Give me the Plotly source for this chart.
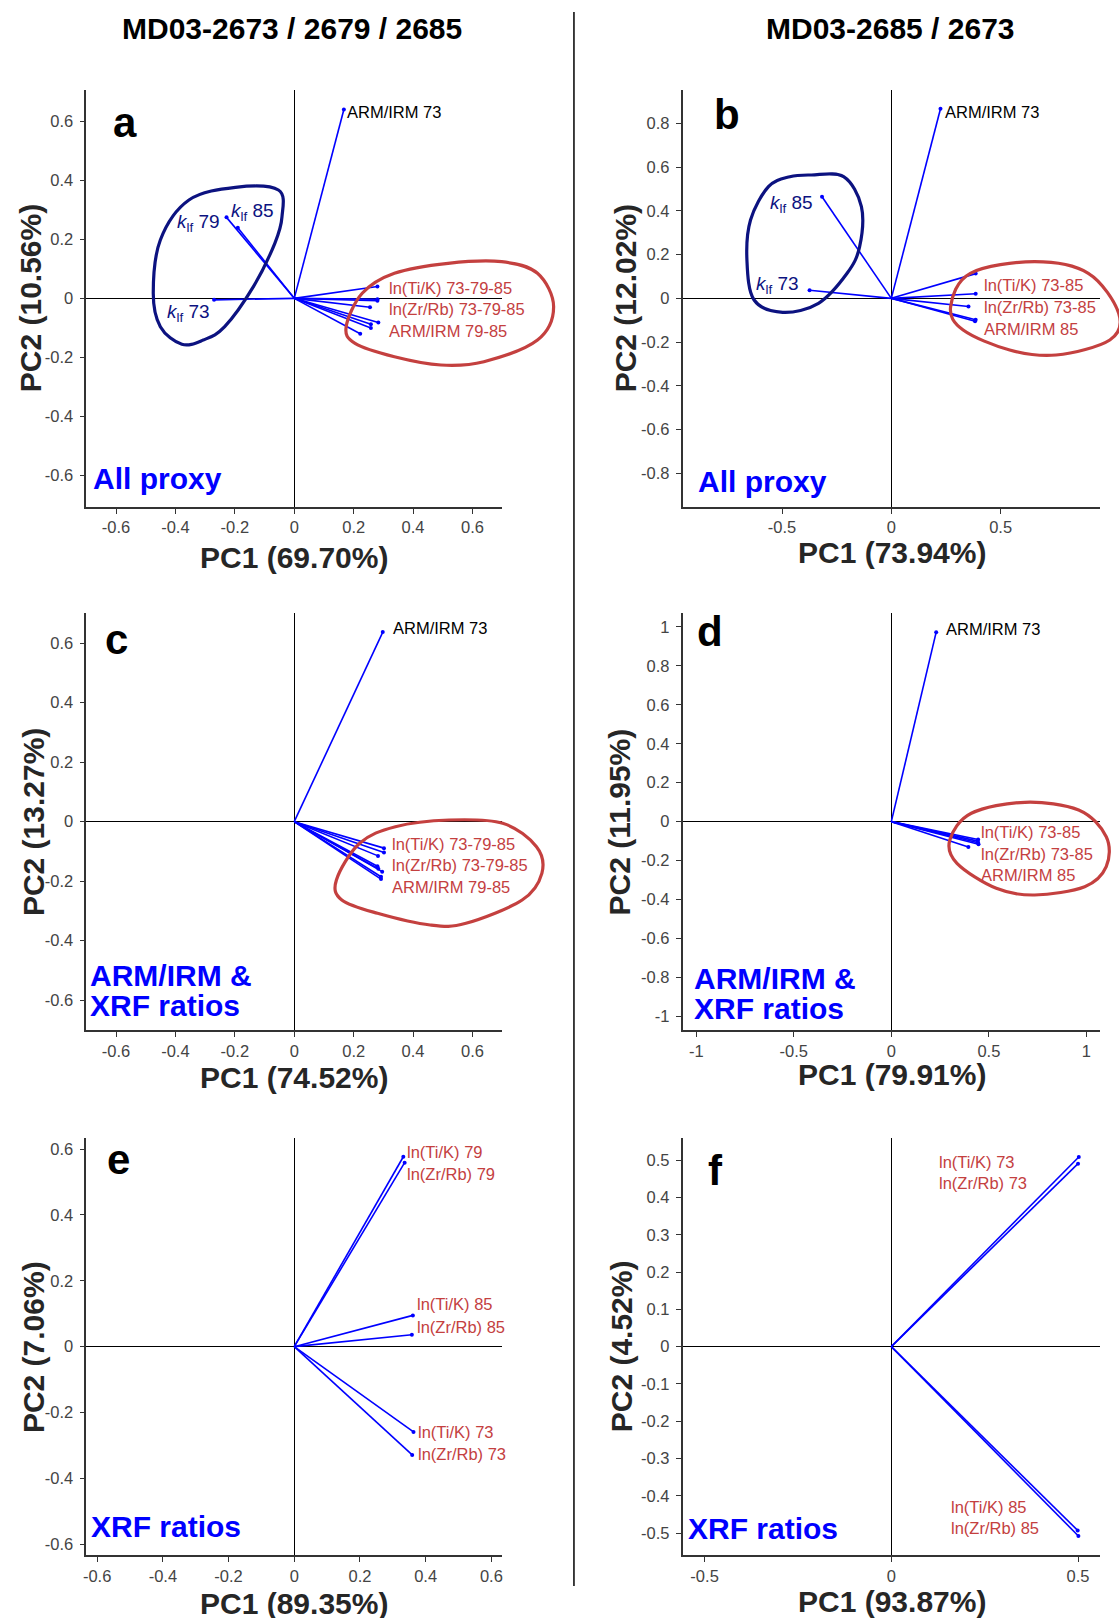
import plotly.graph_objects as go

W, H = 1119, 1618

# ---------------- data ----------------
# panel a : MD03-2673/2679/2685, all proxy
a_pc1 = [0.167, -0.228, -0.190, -0.270, 0.280, 0.280, 0.280, 0.255, 0.283, 0.258, 0.258, 0.222]
a_pc2 = [0.639, 0.274, 0.239, -0.005, 0.040, -0.003, -0.008, -0.030, -0.082, -0.088, -0.100, -0.120]
# panel b : MD03-2685/2673, all proxy
b_pc1 = [0.225, -0.317, -0.374, 0.386, 0.386, 0.353, 0.386, 0.383]
b_pc2 = [0.866, 0.464, 0.037, 0.113, 0.021, -0.037, -0.098, -0.105]
# panel c : ARM/IRM & XRF ratios (3 cores)
c_pc1 = [0.298, 0.302, 0.302, 0.282, 0.280, 0.283, 0.296, 0.292, 0.292]
c_pc2 = [0.637, -0.089, -0.104, -0.115, -0.150, -0.158, -0.168, -0.185, -0.193]
# panel d : ARM/IRM & XRF ratios (2 cores)
d_pc1 = [0.230, 0.445, 0.443, 0.445, 0.447, 0.395]
d_pc2 = [0.973, -0.092, -0.100, -0.108, -0.116, -0.130]
# panel e : XRF ratios (3 cores)
e_pc1 = [0.332, 0.336, 0.361, 0.358, 0.363, 0.359]
e_pc2 = [0.577, 0.559, 0.095, 0.036, -0.259, -0.329]
# panel f : XRF ratios (2 cores)
f_pc1 = [0.502, 0.500, 0.499, 0.501]
f_pc2 = [0.509, 0.491, -0.493, -0.508]

pc1_titles = ["PC1 (69.70%)", "PC1 (73.94%)", "PC1 (74.52%)", "PC1 (79.91%)", "PC1 (89.35%)", "PC1 (93.87%)"]
pc2_titles = ["PC2 (10.56%)", "PC2 (12.02%)", "PC2 (13.27%)", "PC2 (11.95%)", "PC2 (7.06%)", "PC2 (4.52%)"]
panel_letters = ["a", "b", "c", "d", "e", "f"]
column_titles = ["MD03-2673 / 2679 / 2685", "MD03-2685 / 2673"]

ticks_07 = [-0.6, -0.4, -0.2, 0, 0.2, 0.4, 0.6]
ticks_07_lab = ["-0.6", "-0.4", "-0.2", "0", "0.2", "0.4", "0.6"]
ticks_b_x = [-0.5, 0, 0.5]
ticks_b_x_lab = ["-0.5", "0", "0.5"]
ticks_b_y = [-0.8, -0.6, -0.4, -0.2, 0, 0.2, 0.4, 0.6, 0.8]
ticks_b_y_lab = ["-0.8", "-0.6", "-0.4", "-0.2", "0", "0.2", "0.4", "0.6", "0.8"]
ticks_d_x = [-1, -0.5, 0, 0.5, 1]
ticks_d_x_lab = ["-1", "-0.5", "0", "0.5", "1"]
ticks_d_y = [-1, -0.8, -0.6, -0.4, -0.2, 0, 0.2, 0.4, 0.6, 0.8, 1]
ticks_d_y_lab = ["-1", "-0.8", "-0.6", "-0.4", "-0.2", "0", "0.2", "0.4", "0.6", "0.8", "1"]
ticks_f_y = [-0.5, -0.4, -0.3, -0.2, -0.1, 0, 0.1, 0.2, 0.3, 0.4, 0.5]
ticks_f_y_lab = ["-0.5", "-0.4", "-0.3", "-0.2", "-0.1", "0", "0.1", "0.2", "0.3", "0.4", "0.5"]

# ---------------- styles ----------------
BLUE = "#0000ff"
RED = "#c4403f"
NAVY = "#0c1280"
FONT = "Liberation Sans"


def px(x):
    return x / W


def py(y):
    return 1 - y / H


# panel pixel boxes (left, right, top, bottom)
boxes = [
    (83.6, 501, 90, 506.7),
    (682, 1101, 90, 506.7),
    (83.6, 501, 613.3, 1030),
    (682, 1101, 613.3, 1030),
    (83.6, 501, 1138.3, 1555),
    (682, 1101, 1138.3, 1555),
]
ranges = [(0.70, 0.705), (0.955, 0.952), (0.70, 0.70), (1.07, 1.07), (0.633, 0.633), (0.559, 0.559)]
xticks = [(ticks_07, ticks_07_lab), (ticks_b_x, ticks_b_x_lab), (ticks_07, ticks_07_lab),
          (ticks_d_x, ticks_d_x_lab), (ticks_07, ticks_07_lab), (ticks_b_x, ticks_b_x_lab)]
yticks = [(ticks_07, ticks_07_lab), (ticks_b_y, ticks_b_y_lab), (ticks_07, ticks_07_lab),
          (ticks_d_y, ticks_d_y_lab), (ticks_07, ticks_07_lab), (ticks_f_y, ticks_f_y_lab)]
vectors = [(a_pc1, a_pc2), (b_pc1, b_pc2), (c_pc1, c_pc2), (d_pc1, d_pc2), (e_pc1, e_pc2), (f_pc1, f_pc2)]

fig = go.Figure()
layout = dict(width=W, height=H, margin=dict(l=0, r=0, t=0, b=0),
              paper_bgcolor="white", plot_bgcolor="white", showlegend=False)

for i in range(6):
    n = "" if i == 0 else str(i + 1)
    l, r, t, b = boxes[i]
    xr, yr = ranges[i]
    common = dict(showgrid=False, zeroline=True, zerolinecolor="black", zerolinewidth=1.3,
                  showline=True, linecolor="#333333", linewidth=1.6, ticks="outside", ticklen=5,
                  tickcolor="#333333", tickwidth=1.2,
                  tickfont=dict(family=FONT, size=16.5, color="#444444"), fixedrange=True)
    layout["xaxis" + n] = dict(domain=[px(l), px(r)], range=[-xr, xr], anchor="y" + n,
                               tickvals=xticks[i][0], ticktext=xticks[i][1], ticklabelstandoff=0, **common)
    layout["yaxis" + n] = dict(domain=[py(b), py(t)], range=[-yr, yr], anchor="x" + n,
                               tickvals=yticks[i][0], ticktext=yticks[i][1], ticklabelstandoff=3, **common)
    xs, ys = vectors[i]
    lx, ly = [], []
    for xv, yv in zip(xs, ys):
        lx += [0, xv, None]
        ly += [0, yv, None]
    fig.add_trace(go.Scatter(x=lx, y=ly, mode="lines", line=dict(color=BLUE, width=1.6),
                             xaxis="x" + n, yaxis="y" + n, hoverinfo="skip"))
    fig.add_trace(go.Scatter(x=xs, y=ys, mode="markers", marker=dict(color=BLUE, size=4),
                             xaxis="x" + n, yaxis="y" + n, cliponaxis=False))

annotations = []

# column titles
for txt, cx in zip(column_titles, [290, 891]):
    annotations.append(dict(text="<b>" + txt + "</b>", x=px(cx), y=py(28), xref="paper", yref="paper",
                            showarrow=False, xanchor="center", yanchor="middle",
                            font=dict(family=FONT, size=30, color="black")))

# axis titles
xt_pos = [(292, 557.5), (891.7, 552.5), (292, 1077.5), (891.7, 1074), (292, 1603.3), (891.7, 1601.7)]
yt_pos = [(27, 298.3), (624.6, 298), (30.5, 821.7), (619, 821.7), (30.5, 1346.7), (621, 1346.5)]
for i in range(6):
    annotations.append(dict(text="<b>" + pc1_titles[i] + "</b>", x=px(xt_pos[i][0]), y=py(xt_pos[i][1]),
                            xref="paper", yref="paper", showarrow=False, xanchor="center", yanchor="middle",
                            font=dict(family=FONT, size=30, color="#262626")))
    annotations.append(dict(text="<b>" + pc2_titles[i] + "</b>", x=px(yt_pos[i][0]), y=py(yt_pos[i][1]),
                            xref="paper", yref="paper", showarrow=False, xanchor="center", yanchor="middle",
                            textangle=-90, font=dict(family=FONT, size=30, color="#262626")))

# panel letters
letter_pos = [(122, 122), (726.5, 115), (113.7, 639.5), (709.5, 631.7), (116.4, 1159.5), (714.6, 1170.5)]
for lt, (lx_, ly_) in zip(panel_letters, letter_pos):
    annotations.append(dict(text="<b>" + lt + "</b>", x=px(lx_), y=py(ly_), xref="paper", yref="paper",
                            showarrow=False, xanchor="center", yanchor="middle",
                            font=dict(family=FONT, size=42, color="black")))

# blue subset labels
blue_labels = [("All proxy", 88, 478.3), ("All proxy", 695, 481.7),
               ("ARM/IRM &", 85, 975), ("XRF ratios", 85, 1005),
               ("ARM/IRM &", 691, 978.3), ("XRF ratios", 691, 1008.3),
               ("XRF ratios", 86, 1526.7), ("XRF ratios", 685.5, 1528.3)]
for txt, bx, by in blue_labels:
    annotations.append(dict(text="<b>" + txt + "</b>", x=px(bx), y=py(by), xref="paper", yref="paper",
                            showarrow=False, xanchor="left", yanchor="middle",
                            font=dict(family=FONT, size=30, color=BLUE)))


def klf(num):
    return "<i>k</i><sub>lf</sub> " + num


# vector labels: (panel index, text, x, y, color, size)
vec_labels = [
    (0, "ARM/IRM 73", 0.1875, 0.630, "black", 16.5),
    (0, klf("79"), -0.389, 0.255, NAVY, 19),
    (0, klf("85"), -0.206, 0.293, NAVY, 19),
    (0, klf("73"), -0.420, -0.051, NAVY, 19),
    (0, "ln(Ti/K) 73-79-85", 0.330, 0.036, RED, 16.5),
    (0, "ln(Zr/Rb) 73-79-85", 0.330, -0.037, RED, 16.5),
    (0, "ARM/IRM 79-85", 0.330, -0.109, RED, 16.5),
    (1, "ARM/IRM 73", 0.259, 0.851, "black", 16.5),
    (1, klf("85"), -0.546, 0.433, NAVY, 19),
    (1, klf("73"), -0.611, 0.059, NAVY, 19),
    (1, "ln(Ti/K) 73-85", 0.438, 0.063, RED, 16.5),
    (1, "ln(Zr/Rb) 73-85", 0.438, -0.040, RED, 16.5),
    (1, "ARM/IRM 85", 0.438, -0.138, RED, 16.5),
    (2, "ARM/IRM 73", 0.343, 0.650, "black", 16.5),
    (2, "ln(Ti/K) 73-79-85", 0.338, -0.074, RED, 16.5),
    (2, "ln(Zr/Rb) 73-79-85", 0.338, -0.147, RED, 16.5),
    (2, "ARM/IRM 79-85", 0.338, -0.220, RED, 16.5),
    (3, "ARM/IRM 73", 0.298, 0.988, "black", 16.5),
    (3, "ln(Ti/K) 73-85", 0.474, -0.053, RED, 16.5),
    (3, "ln(Zr/Rb) 73-85", 0.474, -0.164, RED, 16.5),
    (3, "ARM/IRM 85", 0.474, -0.276, RED, 16.5),
    (4, "ln(Ti/K) 79", 0.352, 0.590, RED, 16.5),
    (4, "ln(Zr/Rb) 79", 0.352, 0.525, RED, 16.5),
    (4, "ln(Ti/K) 85", 0.384, 0.129, RED, 16.5),
    (4, "ln(Zr/Rb) 85", 0.384, 0.061, RED, 16.5),
    (4, "ln(Ti/K) 73", 0.386, -0.259, RED, 16.5),
    (4, "ln(Zr/Rb) 73", 0.386, -0.326, RED, 16.5),
    (5, "ln(Ti/K) 73", 0.135, 0.496, RED, 16.5),
    (5, "ln(Zr/Rb) 73", 0.135, 0.439, RED, 16.5),
    (5, "ln(Ti/K) 85", 0.168, -0.431, RED, 16.5),
    (5, "ln(Zr/Rb) 85", 0.168, -0.487, RED, 16.5),
]
for pi, txt, vx, vy, col, sz in vec_labels:
    n = "" if pi == 0 else str(pi + 1)
    shift = -4 if col == NAVY else -5
    annotations.append(dict(text=txt, x=vx, y=vy, xref="x" + n, yref="y" + n, showarrow=False,
                            xanchor="left", yanchor="middle", xshift=shift,
                            font=dict(family=FONT, size=sz, color=col)))

layout["annotations"] = annotations


# hand-drawn grouping loops (pixel control points, smoothed)
def smooth_path(pts):
    n = len(pts)
    P = [(px(x), py(y)) for x, y in pts]
    d = "M %.5f,%.5f" % P[0]
    for k in range(n):
        p0, p1, p2, p3 = P[k - 1], P[k], P[(k + 1) % n], P[(k + 2) % n]
        c1 = (p1[0] + (p2[0] - p0[0]) / 6, p1[1] + (p2[1] - p0[1]) / 6)
        c2 = (p2[0] - (p3[0] - p1[0]) / 6, p2[1] - (p3[1] - p1[1]) / 6)
        d += " C %.5f,%.5f %.5f,%.5f %.5f,%.5f" % (c1[0], c1[1], c2[0], c2[1], p2[0], p2[1])
    return d + " Z"


loops = [
    (NAVY, [(276.4, 190), (233.3, 187.3), (186.6, 200), (157.9, 240), (150.8, 293.3), (157.9, 326.7),
            (179.5, 344.3), (201, 340), (222.5, 326.7), (251.3, 286.7), (272.8, 243.3), (280, 216.7)]),
    (RED, [(344.4, 326.7), (360.5, 293.3), (392.8, 273.3), (446.7, 263.3), (500.5, 261.7), (536.4, 273.3),
           (552.6, 306.7), (536.4, 340), (482.6, 361.7), (439.5, 365), (392.8, 356.7), (353.3, 343.3)]),
    (NAVY, [(811.3, 175), (843.6, 176.7), (861.5, 206.7), (859.7, 246.7), (847.1, 273.3), (818.4, 303.3),
            (782.5, 312.3), (753.8, 300), (746.6, 260), (750.2, 220), (768.2, 186.7), (789.7, 176.7)]),
    (RED, [(951, 306.7), (970.8, 273.3), (1035.4, 261.7), (1089.2, 273.3), (1119.7, 313.3),
           (1110.8, 340), (1056.9, 355), (1010.3, 350), (963.6, 330)]),
    (RED, [(334.6, 880), (357.9, 843.3), (393.8, 826.7), (447.7, 820), (501.5, 823.3), (535.4, 846.7),
           (540.8, 873.3), (521, 900), (464.6, 923.3), (428.7, 925), (375.9, 913.3), (340, 900)]),
    (RED, [(950.2, 840), (971.8, 813.3), (1025.6, 802.3), (1079.5, 810), (1107.2, 836.7), (1107.2, 866.7),
           (1085.6, 886.7), (1035.4, 895), (996.9, 888.3), (957.4, 863.3)]),
]
shapes = []
for col, pts in loops:
    shapes.append(dict(type="path", path=smooth_path(pts), xref="paper", yref="paper",
                       line=dict(color=col, width=3.2), fillcolor="rgba(0,0,0,0)", layer="above"))
# column separator
shapes.append(dict(type="line", xref="paper", yref="paper", x0=px(573), x1=px(573), y0=py(12), y1=py(1586),
                   line=dict(color="black", width=1.5)))
layout["shapes"] = shapes

fig.update_layout(**layout)
fig.write_html("out.html", config={"displayModeBar": False},
               post_script="document.body.style.margin='0px';document.body.style.overflow='hidden';")
